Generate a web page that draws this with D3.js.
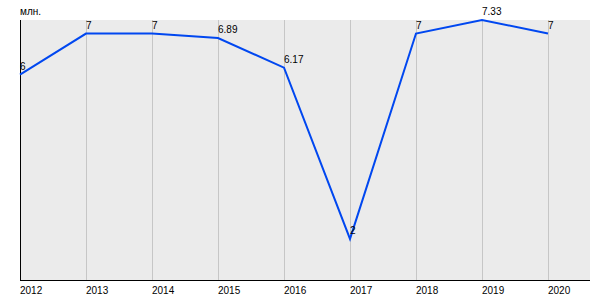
<!DOCTYPE html>
<html><head><meta charset="utf-8">
<script src="https://cdn.jsdelivr.net/npm/d3@7"></script>
<style>body{margin:0;background:#fff}svg{display:block}</style>
</head><body>
<script>
const years = [2012, 2013, 2014, 2015, 2016, 2017, 2018, 2019, 2020];
const values = [6, 7, 7, 6.89, 6.17, 2, 7, 7.33, 7];
const valueLabels = ["6", "7", "7", "6.89", "6.17", "2", "7", "7.33", "7"];
const unitLabel = "млн.";

(function () {
const W = 600, H = 300;
const mL = 20, mR = 590, mT = 20, mB = 280;
const svg = d3.select("body").append("svg").attr("width", W).attr("height", H);

const x = d3.scaleLinear().domain([2012, 2012 + (mR - mL) / 66]).range([mL, mR]);
const y = d3.scaleLinear().domain([1, 7.33]).range([mB, mT]);

svg.append("rect").attr("x", mL).attr("y", mT).attr("width", mR - mL).attr("height", mB - mT).attr("fill", "#ebebeb");

svg.append("g").selectAll("line").data(years).join("line")
  .attr("x1", d => x(d)).attr("x2", d => x(d)).attr("y1", mT).attr("y2", mB)
  .attr("stroke", "#c6c6c6").attr("stroke-width", 1).attr("shape-rendering", "crispEdges");

svg.append("line").attr("x1", mL).attr("x2", mL).attr("y1", mT).attr("y2", mB)
  .attr("stroke", "#000").attr("shape-rendering", "crispEdges");
svg.append("line").attr("x1", mL).attr("x2", mR).attr("y1", mB).attr("y2", mB)
  .attr("stroke", "#000").attr("shape-rendering", "crispEdges");

svg.append("g").selectAll("text").data(years).join("text")
  .attr("x", d => x(d)).attr("y", 294)
  .attr("font-family", "Liberation Sans, Arial, sans-serif").attr("font-size", 10)
  .attr("fill", "#000").text(d => d);

svg.append("text").attr("x", mL).attr("y", 15)
  .attr("font-family", "Liberation Sans, Arial, sans-serif").attr("font-size", 10)
  .attr("fill", "#000").text(unitLabel);

const line = d3.line().x((d, i) => x(years[i])).y(d => y(d)).curve(d3.curveLinear);
svg.append("path").datum(values).attr("d", line)
  .attr("fill", "none").attr("stroke", "#0047f0").attr("stroke-width", 2);

svg.append("g").selectAll("text").data(values).join("text")
  .attr("x", (d, i) => x(years[i])).attr("y", d => y(d) - 5)
  .attr("font-family", "Liberation Sans, Arial, sans-serif").attr("font-size", 10)
  .attr("fill", "#000").text((d, i) => valueLabels[i]);
})();
</script>
</body></html>
